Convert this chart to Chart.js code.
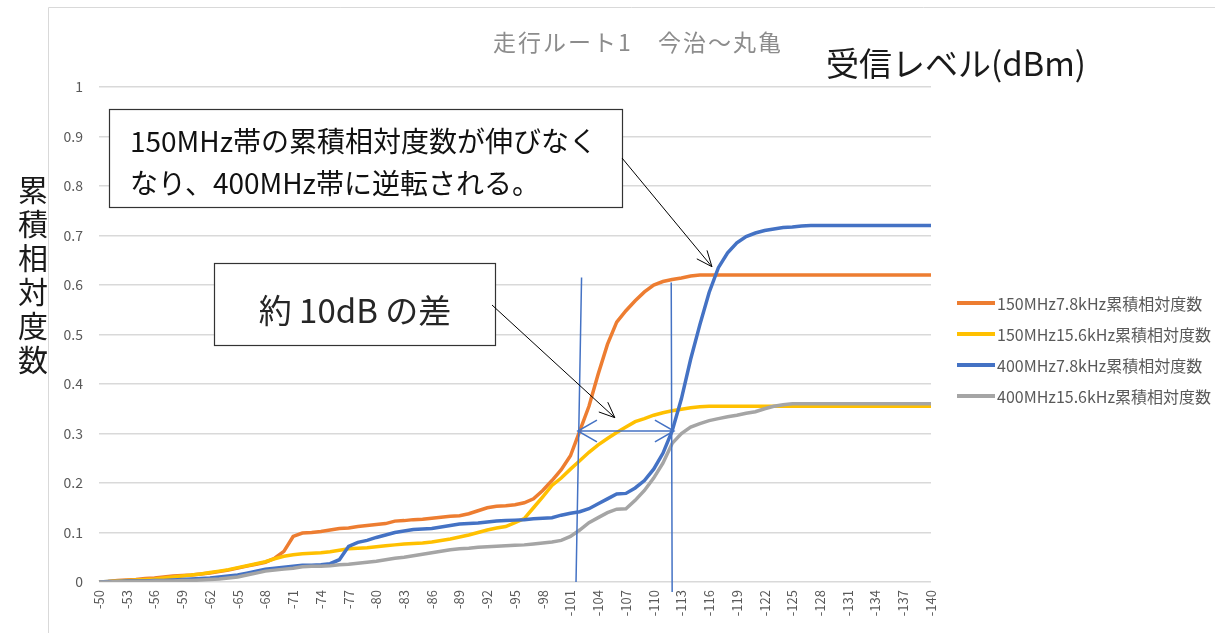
<!DOCTYPE html>
<html>
<head>
<meta charset="utf-8">
<script src="https://cdn.jsdelivr.net/npm/chart.js@4.4.1/dist/chart.umd.min.js"></script>
<style>
  html, body { margin: 0; padding: 0; background: #fff; }
  #wrap { width: 1215px; height: 633px; }
</style>
</head>
<body>
<div id="wrap"><canvas id="chart"></canvas></div>
<script>
// received level (dBm), one category per dB
const levels = ['-50','-51','-52','-53','-54','-55','-56','-57','-58','-59',
  '-60','-61','-62','-63','-64','-65','-66','-67','-68','-69',
  '-70','-71','-72','-73','-74','-75','-76','-77','-78','-79',
  '-80','-81','-82','-83','-84','-85','-86','-87','-88','-89',
  '-90','-91','-92','-93','-94','-95','-96','-97','-98','-99',
  '-100','-101','-102','-103','-104','-105','-106','-107','-108','-109',
  '-110','-111','-112','-113','-114','-115','-116','-117','-118','-119',
  '-120','-121','-122','-123','-124','-125','-126','-127','-128','-129',
  '-130','-131','-132','-133','-134','-135','-136','-137','-138','-139','-140'];

// labels printed on the x axis
const tickLabels = ['-50','-53','-56','-59','-62','-65','-68','-71','-74','-77','-80',
  '-83','-86','-89','-92','-95','-98','-101','-104','-107','-110','-113','-116',
  '-119','-122','-125','-128','-131','-134','-137','-140'];

const seriesNames = ['150MHz7.8kHz累積相対度数', '150MHz15.6kHz累積相対度数',
  '400MHz7.8kHz累積相対度数', '400MHz15.6kHz累積相対度数'];
const seriesColors = ['#ED7D31', '#FFC000', '#4472C4', '#A5A5A5'];

const mhz150_78 = [0,0.001,0.003,0.004,0.005,0.007,0.008,0.01,0.012,0.013,
  0.014,0.016,0.018,0.021,0.024,0.028,0.032,0.036,0.04,0.048,
  0.062,0.092,0.099,0.1,0.102,0.105,0.108,0.109,0.112,0.114,
  0.116,0.118,0.123,0.124,0.126,0.127,0.129,0.131,0.133,0.134,
  0.138,0.144,0.15,0.153,0.154,0.156,0.16,0.168,0.185,0.205,
  0.227,0.255,0.305,0.355,0.42,0.48,0.525,0.548,0.568,0.586,
  0.6,0.607,0.611,0.614,0.618,0.62,0.62,0.62,0.62,0.62,
  0.62,0.62,0.62,0.62,0.62,0.62,0.62,0.62,0.62,0.62,
  0.62,0.62,0.62,0.62,0.62,0.62,0.62,0.62,0.62,0.62,0.62];

const mhz150_156 = [0,0.001,0.002,0.003,0.004,0.005,0.006,0.008,0.01,0.012,
  0.014,0.016,0.019,0.022,0.025,0.029,0.033,0.037,0.041,0.047,
  0.052,0.055,0.057,0.058,0.059,0.061,0.064,0.067,0.068,0.069,
  0.071,0.073,0.075,0.077,0.078,0.079,0.081,0.084,0.087,0.091,
  0.095,0.1,0.105,0.109,0.112,0.12,0.128,0.15,0.172,0.195,
  0.21,0.228,0.245,0.262,0.277,0.29,0.302,0.313,0.324,0.33,
  0.337,0.342,0.346,0.349,0.352,0.354,0.355,0.355,0.355,0.355,
  0.355,0.355,0.355,0.355,0.355,0.355,0.355,0.355,0.355,0.355,
  0.355,0.355,0.355,0.355,0.355,0.355,0.355,0.355,0.355,0.355,0.355];

const mhz400_78 = [0,0.001,0.001,0.002,0.002,0.002,0.003,0.003,0.004,0.005,
  0.006,0.007,0.008,0.01,0.012,0.014,0.018,0.022,0.026,0.028,
  0.03,0.032,0.034,0.034,0.035,0.037,0.045,0.072,0.08,0.084,
  0.09,0.095,0.1,0.103,0.106,0.107,0.108,0.111,0.114,0.117,
  0.118,0.119,0.121,0.123,0.124,0.125,0.126,0.128,0.129,0.13,
  0.135,0.139,0.142,0.148,0.158,0.168,0.178,0.179,0.19,0.205,
  0.228,0.26,0.305,0.37,0.45,0.52,0.585,0.635,0.665,0.685,
  0.698,0.705,0.71,0.713,0.716,0.717,0.719,0.72,0.72,0.72,
  0.72,0.72,0.72,0.72,0.72,0.72,0.72,0.72,0.72,0.72,0.72];

const mhz400_156 = [0,0,0.001,0.001,0.001,0.001,0.002,0.002,0.002,0.003,
  0.003,0.004,0.005,0.006,0.008,0.01,0.014,0.018,0.022,0.024,
  0.026,0.028,0.031,0.032,0.032,0.033,0.035,0.036,0.038,0.04,
  0.042,0.045,0.048,0.05,0.053,0.056,0.059,0.062,0.065,0.067,
  0.068,0.07,0.071,0.072,0.073,0.074,0.075,0.077,0.079,0.081,
  0.084,0.092,0.105,0.12,0.13,0.14,0.147,0.148,0.165,0.185,
  0.21,0.24,0.28,0.3,0.313,0.32,0.326,0.33,0.334,0.337,
  0.341,0.344,0.35,0.355,0.358,0.36,0.36,0.36,0.36,0.36,
  0.36,0.36,0.36,0.36,0.36,0.36,0.36,0.36,0.36,0.36,0.36];

const seriesValues = [mhz150_78, mhz150_156, mhz400_78, mhz400_156];

const JP = '"Noto Sans CJK JP", "Noto Sans", sans-serif';
Chart.defaults.font.family = JP;

function arrowHead(ctx, x1, y1, x2, y2, len, spread) {
  const a = Math.atan2(y2 - y1, x2 - x1);
  ctx.beginPath();
  ctx.moveTo(x2 - len * Math.cos(a - spread), y2 - len * Math.sin(a - spread));
  ctx.lineTo(x2, y2);
  ctx.lineTo(x2 - len * Math.cos(a + spread), y2 - len * Math.sin(a + spread));
  ctx.stroke();
}

// titles, boxes, arrows and legend drawn on top of the chart
const decorations = {
  id: 'decorations',
  beforeDraw(chart) {
    const ctx = chart.ctx;
    ctx.save();
    ctx.strokeStyle = '#d9d9d9';
    ctx.lineWidth = 1;
    ctx.beginPath();
    ctx.moveTo(48.5, 633);
    ctx.lineTo(48.5, 7.5);
    ctx.lineTo(1215, 7.5);
    ctx.stroke();
    ctx.restore();
  },
  afterDraw(chart) {
    const ctx = chart.ctx;
    const xs = chart.scales.x, ys = chart.scales.y;
    const px = i => xs.getPixelForValue(i);
    const py = v => ys.getPixelForValue(v);
    ctx.save();

    // chart title and axis titles
    ctx.fillStyle = '#8c8c8c';
    ctx.font = '23px ' + JP;
    ctx.letterSpacing = '2px';
    ctx.textAlign = 'center';
    ctx.textBaseline = 'alphabetic';
    ctx.fillText('走行ルート1　今治～丸亀', 638, 51);
    ctx.letterSpacing = '0px';

    ctx.fillStyle = '#1a1a1a';
    ctx.font = '33px ' + JP;
    ctx.textAlign = 'left';
    ctx.fillText('受信レベル(dBm)', 826, 76);

    ctx.font = '30px ' + JP;
    ctx.textAlign = 'center';
    ctx.textBaseline = 'middle';
    [...'累積相対度数'].forEach((ch, k) => ctx.fillText(ch, 33, 190 + k * 34));

    // blue guide lines and the 10 dB span
    ctx.strokeStyle = '#4472C4';
    ctx.lineWidth = 1.5;
    ctx.beginPath();
    ctx.moveTo(px(52.2), py(0.615));
    ctx.lineTo(px(51.6), py(0));
    ctx.moveTo(px(61.9), py(0.605));
    ctx.lineTo(px(62.0), py(-0.02));
    const ay = py(0.305), ax1 = px(51.8), ax2 = px(62.2);
    ctx.moveTo(ax1, ay);
    ctx.lineTo(ax2, ay);
    ctx.stroke();
    arrowHead(ctx, ax2, ay, ax1, ay, 22, 0.52);
    arrowHead(ctx, ax1, ay, ax2, ay, 22, 0.52);

    // callout boxes
    ctx.fillStyle = '#fff';
    ctx.strokeStyle = '#333';
    ctx.lineWidth = 1.2;
    ctx.fillRect(109, 109, 513, 98);
    ctx.strokeRect(109.5, 109.5, 513, 98);
    ctx.fillRect(214, 263, 281, 82);
    ctx.strokeRect(214.5, 263.5, 281, 82);

    ctx.fillStyle = '#111';
    ctx.font = '28px ' + JP;
    ctx.textAlign = 'left';
    ctx.textBaseline = 'alphabetic';
    ctx.fillText('150MHz帯の累積相対度数が伸びなく', 130, 152);
    ctx.fillText('なり、400MHz帯に逆転される。', 130, 194);

    ctx.fillStyle = '#262626';
    ctx.font = '33px ' + JP;
    ctx.textAlign = 'center';
    ctx.fillText('約 10dB の差', 355, 323);

    // black arrows from the boxes
    ctx.strokeStyle = '#000';
    ctx.lineWidth = 1;
    const t1x = px(66.3), t1y = py(0.637);
    ctx.beginPath();
    ctx.moveTo(622, 158);
    ctx.lineTo(t1x, t1y);
    ctx.stroke();
    arrowHead(ctx, 622, 158, t1x, t1y, 17, 0.4);
    const t2x = px(55.8), t2y = py(0.332);
    ctx.beginPath();
    ctx.moveTo(492, 305);
    ctx.lineTo(t2x, t2y);
    ctx.stroke();
    arrowHead(ctx, 492, 305, t2x, t2y, 17, 0.4);

    // legend
    ctx.font = '16px ' + JP;
    ctx.textAlign = 'left';
    ctx.textBaseline = 'middle';
    chart.data.datasets.forEach((ds, i) => {
      const y = 303 + i * 31;
      ctx.strokeStyle = ds.borderColor;
      ctx.lineWidth = 4;
      ctx.beginPath();
      ctx.moveTo(957, y);
      ctx.lineTo(995, y);
      ctx.stroke();
      ctx.fillStyle = '#595959';
      ctx.fillText(ds.label, 997, y + 1);
    });
    ctx.restore();
  }
};

const chart = new Chart(document.getElementById('chart'), {
  type: 'line',
  data: {
    labels: levels,
    datasets: seriesNames.map((name, i) => ({
      label: name,
      data: seriesValues[i],
      borderColor: seriesColors[i],
      backgroundColor: seriesColors[i],
      borderWidth: 3.5,
      pointRadius: 0,
      tension: 0,
      order: 3 - i
    }))
  },
  options: {
    responsive: true,
    maintainAspectRatio: false,
    animation: false,
    layout: { padding: { left: 0, top: 87, right: 284, bottom: 0 } },
    plugins: {
      legend: { display: false },
      tooltip: { enabled: false }
    },
    scales: {
      x: {
        offset: false,
        grid: { display: false, drawTicks: false },
        border: { display: false },
        ticks: {
          autoSkip: false,
          maxRotation: 90,
          minRotation: 90,
          padding: 8,
          color: '#595959',
          font: { size: 13 },
          callback: function (v) {
            const lab = this.getLabelForValue(v);
            return tickLabels.includes(lab) ? lab : '';
          }
        },
        afterFit: s => { s.height = 51; }
      },
      y: {
        min: 0,
        max: 1,
        grid: { color: '#d9d9d9', lineWidth: 1.5, drawTicks: false },
        border: { display: false },
        ticks: {
          stepSize: 0.1,
          padding: 16,
          color: '#595959',
          font: { size: 14 },
          callback: v => String(+v.toFixed(1))
        },
        afterFit: s => { s.width = 99; }
      }
    }
  },
  plugins: [decorations]
});
</script>
</body>
</html>
